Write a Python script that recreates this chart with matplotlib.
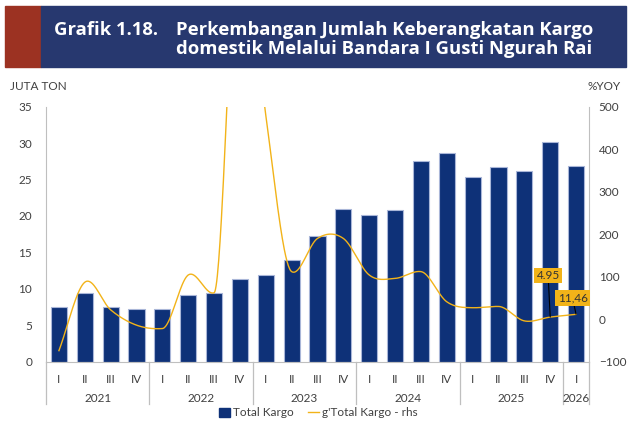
import matplotlib
matplotlib.use("Agg")
import matplotlib.pyplot as plt
import matplotlib.transforms as mtransforms
from matplotlib.patches import Rectangle
from matplotlib.lines import Line2D
import numpy as np

plt.rcParams['font.family'] = ['Lato', 'DejaVu Sans']

# ── data ─────────────────────────────────────────────────────────────────────
years = ["2021", "2022", "2023", "2024", "2025", "2026"]
quarters_per_year = [4, 4, 4, 4, 4, 1]
quarter_labels = ["I", "II", "III", "IV"] * 5 + ["I"]

total_kargo = [7.55, 9.4, 7.45, 7.2,
               7.3, 9.15, 9.4, 11.3,
               11.95, 13.9, 17.2, 21.0,
               20.2, 20.8, 27.6, 28.7,
               25.4, 26.7, 26.2, 30.1,
               26.9]
growth_yoy = [-74, 87, 22, -14,
              -22, 104, 62, 1000,
              480, 112, 190, 190,
              104, 96, 112, 41,
              27, 30, -4, 4.95,
              11.46]
growth_labels = {19: "4.95", 20: "11,46"}

NAVY = "#0E3178"
EDGE = "#A9B6D8"
GOLD = "#F2B319"
GRID = "#BFBFBF"
TXT = "#404040"


def smooth_line(x, y, n=40):
    # 엑셀 "smoothed line" 흉내: Catmull-Rom, 급격한 꺾임에서는 접선 제한
    x = np.asarray(x, float)
    y = np.asarray(y, float)
    d = np.diff(y) / np.diff(x)
    m = np.empty_like(y)
    m[0], m[-1] = d[0], d[-1]
    for k in range(1, len(y) - 1):
        m[k] = (y[k + 1] - y[k - 1]) / (x[k + 1] - x[k - 1])
        lo, hi = sorted((abs(d[k - 1]), abs(d[k])))
        if d[k - 1] * d[k] < 0 and hi > 4 * lo:
            m[k] = np.sign(m[k]) * min(abs(m[k]), 0.5 * lo)
    t = np.linspace(0, 1, n)
    h00 = 2 * t ** 3 - 3 * t ** 2 + 1
    h10 = t ** 3 - 2 * t ** 2 + t
    h01 = -2 * t ** 3 + 3 * t ** 2
    h11 = t ** 3 - t ** 2
    xs, ys = [], []
    for k in range(len(d)):
        h = x[k + 1] - x[k]
        xs.append(x[k] + t * h)
        ys.append(h00 * y[k] + h10 * h * m[k] + h01 * y[k + 1] + h11 * h * m[k + 1])
    return np.concatenate(xs), np.concatenate(ys)


fig = plt.figure(figsize=(6.29, 4.28), dpi=100)

# ── 제목 배너 ────────────────────────────────────────────────────────────────
fig.patches.append(Rectangle((5 / 629, 1 - 67 / 428), 36 / 629, 61 / 428,
                             transform=fig.transFigure, color="#9C3222", zorder=0))
fig.patches.append(Rectangle((41 / 629, 1 - 67 / 428), 585 / 629, 61 / 428,
                             transform=fig.transFigure, color="#27386F", zorder=0))
title_kw = dict(color="white", fontsize=13.3, fontweight="bold", va="center",
                ha="left", family=["Open Sans", "DejaVu Sans"])
fig.text(54 / 629, 1 - 30 / 428, "Grafik 1.18.", **title_kw)
fig.text(176 / 629, 1 - 30 / 428, "Perkembangan Jumlah Keberangkatan Kargo", **title_kw)
fig.text(176 / 629, 1 - 49 / 428, "domestik Melalui Bandara I Gusti Ngurah Rai", **title_kw)

# ── 축 ───────────────────────────────────────────────────────────────────────
ax = fig.add_axes([46 / 629, 1 - 361.7 / 428, 543 / 629, 255 / 428])
ax2 = ax.twinx()
ax.set_zorder(ax2.get_zorder() - 1)
ax.patch.set_visible(True)
ax2.patch.set_visible(False)

x = np.arange(len(total_kargo))
ax.bar(x, total_kargo, width=0.62, color=NAVY, edgecolor=EDGE, linewidth=0.8,
       zorder=2)
ax.set_xlim(-0.5, len(x) - 0.5)
ax.set_ylim(0, 35)
ax.set_yticks(range(0, 36, 5))
ax2.set_ylim(-100, 500)
ax2.set_yticks(range(-100, 501, 100))

sx, sy = smooth_line(x, growth_yoy)
ax2.plot(sx, sy, color=GOLD, lw=1.0, zorder=3)

for a in (ax, ax2):
    a.spines["top"].set_visible(False)
    a.tick_params(axis="y", length=0, labelsize=8.5, labelcolor=TXT)
ax.tick_params(axis="y", pad=10)
ax2.tick_params(axis="y", pad=7)
ax.spines["right"].set_visible(False)
ax.spines["left"].set_color(GRID)
ax.spines["bottom"].set_color(GRID)
ax2.spines["left"].set_visible(False)
ax2.spines["bottom"].set_visible(False)
ax2.spines["right"].set_color(GRID)

ax.set_xticks(x)
ax.set_xticklabels(quarter_labels)
ax.tick_params(axis="x", length=0, labelsize=8.5, labelcolor=TXT, pad=9)

# 연도 구분선 / 연도 라벨
trans = mtransforms.blended_transform_factory(ax.transData, ax.transAxes)
depth = (404 - 361.7) / 255
bounds = np.concatenate([[0], np.cumsum(quarters_per_year)]) - 0.5
for b in bounds:
    ax.add_line(Line2D([b, b], [0, -depth], transform=trans, color=GRID,
                       lw=0.9, clip_on=False))
for yr, lo, hi in zip(years, bounds[:-1], bounds[1:]):
    ax.text((lo + hi) / 2, -(399 - 361.7) / 255, yr, transform=trans,
            ha="center", va="center", fontsize=8.5, color=TXT)

# 축 단위
fig.text(10 / 629, 1 - 87 / 428, "JUTA TON", fontsize=8.5, color=TXT, va="center")
fig.text(588 / 629, 1 - 87 / 428, "%YOY", fontsize=8.5, color=TXT, va="center")

# 최근 값 라벨
for i, dx, dy in ((19, -1.5, 30), (20, -2.5, 11.5)):
    ax2.annotate(growth_labels[i], xy=(i, growth_yoy[i]),
                 xytext=(dx, dy), textcoords="offset points", ha="center",
                 va="center", fontsize=8.5, color="#333333",
                 bbox=dict(boxstyle="square,pad=0.2", fc=GOLD, ec="none"),
                 arrowprops=dict(arrowstyle="-", color="black", lw=0.8,
                                 shrinkA=0, shrinkB=0), zorder=5)

# 범례
handles = [Rectangle((0, 0), 1, 1, color=NAVY),
           Line2D([], [], color=GOLD, lw=1.0)]
fig.legend(handles, ["Total Kargo", "g'Total Kargo - rhs"], loc="center",
           bbox_to_anchor=(318 / 629, 1 - 413 / 428), ncol=2, frameon=False,
           fontsize=8.5, handlelength=1.0, handletextpad=0.2, columnspacing=1.2,
           labelcolor=TXT)

fig.savefig("out.png", dpi=100)
